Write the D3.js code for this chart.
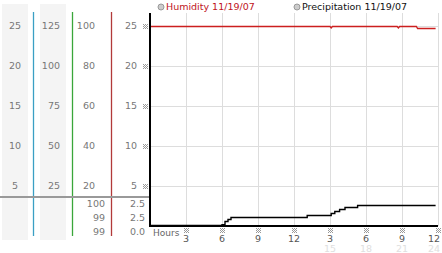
<!DOCTYPE html>
<meta charset="utf-8">
<title>Humidity and Precipitation</title>
<style>
  body { margin: 0; background: #fff; }
  text { font-family: "DejaVu Sans", Verdana, sans-serif; }
  .lbl { font-size: 9.5px; fill: #777; }
  .grid line { stroke: #ddd; stroke-width: 1px; }
</style>
<body>
<svg width="442" height="253"></svg>
<script src="https://cdnjs.cloudflare.com/ajax/libs/d3/7.8.5/d3.min.js"></script>
<script>
  // hours since midnight, value on the 0-25 scale
  var precipHours = [0, 6.0, 6.25, 6.5, 6.75, 13.1, 15.1, 15.4, 15.8, 16.25, 17.3, 23.8];
  var precipValues = [0, 0.1, 0.5, 0.75, 1.0, 1.25, 1.5, 1.75, 2.0, 2.25, 2.5, 2.5];

  // humidity in percent
  var humidHours = [0, 15.0, 15.1, 15.2, 20.6, 20.7, 20.8, 22.2, 22.3, 23.8];
  var humidValues = [100, 100, 99.3, 100, 100, 99.3, 100, 100, 99, 99];

  var xTicks = [3, 6, 9, 12, 15, 18, 21, 24];
  var xTickLabels = ["3", "6", "9", "12", "3", "6", "9", "12"];
  var xTickLabels2 = ["", "", "", "", "15", "18", "21", "24"];

  var col1Ticks = [5, 10, 15, 20, 25];
  var col2Ticks = [25, 50, 75, 100, 125];
  var col3Ticks = [20, 40, 60, 80, 100];
  var col4Ticks = [5, 10, 15, 20, 25];

  var humidSummary = ["100", "99", "99"];
  var precipSummary = ["2.5", "2.5", "0.0"];

  var svg = d3.select("svg");

  var x = d3.scaleLinear().domain([0, 24]).range([150, 438]);
  var y25 = d3.scaleLinear().domain([0, 25]).range([226, 26]);
  var y125 = d3.scaleLinear().domain([0, 125]).range([226, 26]);
  var y100 = d3.scaleLinear().domain([0, 100]).range([226, 26]);

  // shaded columns
  svg.append("rect").attr("x", 2).attr("y", 4).attr("width", 26).attr("height", 236).attr("fill", "#f4f4f4");
  svg.append("rect").attr("x", 40).attr("y", 4).attr("width", 26).attr("height", 236).attr("fill", "#f4f4f4");

  // colored separators
  [[33.5, "#3a9fc4"], [72.5, "#3aa63a"], [111.5, "#b23a3a"]].forEach(function (c) {
    svg.append("line").attr("x1", c[0]).attr("x2", c[0]).attr("y1", 12).attr("y2", 236)
      .attr("stroke", c[1]).attr("stroke-width", 1.3);
  });

  // scale labels
  function colLabels(ticks, scale, xp, anchor) {
    svg.append("g").selectAll("text").data(ticks).enter().append("text")
      .attr("class", "lbl")
      .attr("x", xp).attr("y", d => scale(d)).attr("dy", "0.35em")
      .attr("text-anchor", anchor)
      .text(d => d);
  }
  colLabels(col1Ticks, y25, 15, "middle");
  colLabels(col2Ticks, y125, 60, "end");
  colLabels(col3Ticks, y100, 95, "end");
  colLabels(col4Ticks, y25, 137, "end");

  // gridlines
  var grid = svg.append("g").attr("class", "grid");
  grid.selectAll(".v").data(xTicks).enter().append("line")
    .attr("x1", d => x(d) + 0.5).attr("x2", d => x(d) + 0.5)
    .attr("y1", 13).attr("y2", 226);
  grid.selectAll(".h").data(col4Ticks).enter().append("line")
    .attr("x1", 150).attr("x2", 438)
    .attr("y1", d => y25(d) + 0.5).attr("y2", d => y25(d) + 0.5);

  // summary separator
  svg.append("line").attr("x1", 0).attr("x2", 150).attr("y1", 197).attr("y2", 197)
    .attr("stroke", "#999").attr("stroke-width", 2);

  svg.append("g").selectAll("text").data(humidSummary).enter().append("text")
    .attr("class", "lbl").attr("x", 105).attr("y", (d, i) => 204 + i * 14).attr("dy", "0.35em")
    .attr("text-anchor", "end").text(d => d);
  svg.append("g").selectAll("text").data(precipSummary).enter().append("text")
    .attr("class", "lbl").attr("x", 145).attr("y", (d, i) => 204 + i * 14).attr("dy", "0.35em")
    .attr("text-anchor", "end").text(d => d);

  // small dotted tick marks
  function dots(g, cx, cy) {
    [[-2, -2], [0, -2], [2, -2], [-1, -1], [1, -1], [-2, 0], [0, 0], [2, 0], [-1, 1], [1, 1], [-2, 2], [0, 2], [2, 2]]
      .forEach(function (p) {
        g.append("rect").attr("x", cx + p[0]).attr("y", cy + p[1]).attr("width", 1).attr("height", 1)
          .attr("fill", "#999");
      });
  }
  var marks = svg.append("g");
  col4Ticks.forEach(d => dots(marks, 145, Math.round(y25(d))));
  xTicks.forEach(d => dots(marks, Math.round(x(d)), 230));

  // x labels
  svg.append("g").selectAll("text").data(xTicks).enter().append("text")
    .attr("class", "lbl").style("fill", "#555")
    .attr("x", d => Math.min(x(d), 434)).attr("y", 242).attr("text-anchor", "middle")
    .text((d, i) => xTickLabels[i]);
  svg.append("g").selectAll("text").data(xTicks).enter().append("text")
    .attr("class", "lbl").style("fill", "#e0e0e0")
    .attr("x", d => Math.min(x(d), 434)).attr("y", 252).attr("text-anchor", "middle")
    .text((d, i) => xTickLabels2[i]);
  svg.append("text").attr("class", "lbl").style("fill", "#666").style("font-size", "9px")
    .attr("x", 153).attr("y", 236).text("Hours");

  // humidity line
  var humid = humidHours.map((h, i) => [h, humidValues[i]]);
  svg.append("path").datum(humid)
    .attr("fill", "none").attr("stroke", "#cc1f1f").attr("stroke-width", 1.4)
    .attr("d", d3.line().x(d => x(d[0])).y(d => y100(d[1]) + 0.5));

  // precipitation line
  var precip = precipHours.map((h, i) => [h, precipValues[i]]);
  svg.append("path").datum(precip)
    .attr("fill", "none").attr("stroke", "#000").attr("stroke-width", 1.4)
    .attr("d", d3.line().curve(d3.curveStepAfter).x(d => x(d[0])).y(d => y25(d[1]) - 0.5));

  // axes
  svg.append("line").attr("x1", 150).attr("x2", 150).attr("y1", 13).attr("y2", 227)
    .attr("stroke", "#000").attr("stroke-width", 2);
  svg.append("line").attr("x1", 149).attr("x2", 438).attr("y1", 226).attr("y2", 226)
    .attr("stroke", "#000").attr("stroke-width", 2);

  // legend
  var legend = [["Humidity 11/19/07", "#c0141c", 161], ["Precipitation 11/19/07", "#111", 297]];
  legend.forEach(function (l) {
    svg.append("circle").attr("cx", l[2]).attr("cy", 7).attr("r", 3)
      .attr("fill", "#ccc").attr("stroke", "#999").attr("stroke-width", 1);
    svg.append("text").attr("x", l[2] + 5).attr("y", 7).attr("dy", "0.35em")
      .style("font-size", "9.5px").style("fill", l[1]).text(l[0]);
  });
</script>
</body>
